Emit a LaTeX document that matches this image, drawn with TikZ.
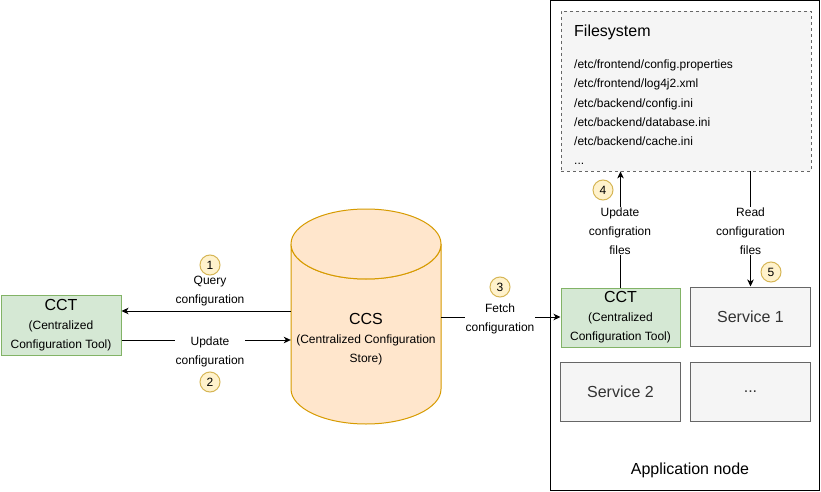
\documentclass[tikz,border=0pt]{standalone}
\usepackage{fontspec}
\setmainfont{Liberation Sans}
\usetikzlibrary{arrows.meta}
\definecolor{gfill}{HTML}{D5E8D4}
\definecolor{gline}{HTML}{82B366}
\definecolor{ofill}{HTML}{FFE6CC}
\definecolor{oline}{HTML}{D79B00}
\definecolor{sfill}{HTML}{F5F5F5}
\definecolor{sline}{HTML}{666666}
\definecolor{stext}{HTML}{333333}
\definecolor{bfill}{HTML}{FFF2CC}
\definecolor{bline}{HTML}{D6B656}
\tikzset{
  fbig/.style={font=\fontsize{16}{19}\selectfont},
  fsmall/.style={font=\fontsize{12}{19}\selectfont},
  greenbox/.style={draw=gline, fill=gfill, line width=1pt, minimum width=#1, minimum height=59pt, inner sep=0pt, align=center, font=\fontsize{12}{19}\selectfont},
  graybox/.style={draw=sline, fill=sfill, line width=1pt, minimum width=120pt, minimum height=59pt, inner sep=0pt, text=stext, font=\fontsize{16}{19}\selectfont},
  badge/.style={circle, draw=bline, fill=bfill, line width=1pt, minimum size=20pt, inner sep=0pt, font=\fontsize{12}{13}\selectfont},
  elabel/.style={fill=white, align=center, inner sep=1pt, font=\fontsize{12}{19}\selectfont},
  conn/.style={line width=1pt, draw=black},
  arr/.style={conn, -{Stealth[length=7pt, width=6.5pt, inset=2pt]}},
}
\begin{document}
\begin{tikzpicture}[x=1pt, y=-1pt]
\useasboundingbox (0,0) rectangle (821,492);
\fill[white] (0,0) rectangle (821,492);

% Application node frame
\node[draw=black, line width=1pt, minimum width=269pt, minimum height=489pt, inner sep=0pt] (app) at (684.5,245.5) {};
\node[fbig] (apptitle) at (690,470) {Application node};

% Filesystem
\node[draw=sline, fill=sfill, dashed, line width=0.8pt, minimum width=250pt, minimum height=160pt, inner sep=0pt] (fs) at (686,91) {};
\node[fbig, anchor=west, inner sep=0pt] (fstitle) at (574,32) {Filesystem};
\foreach \y/\t [count=\i] in {69/{/etc/frontend/config.properties}, 88/{/etc/frontend/log4j2.xml}, 107/{/etc/backend/config.ini}, 126/{/etc/backend/database.ini}, 145/{/etc/backend/cache.ini}, 164/{...}}
  \node[fsmall, anchor=base west, inner sep=0pt] (f\i) at (574,\y) {\t};

% Right side boxes
\node[greenbox=119pt] (cctR) at (620.5,317.5) {{\fontsize{16}{19}\selectfont CCT}\\(Centralized\\Configuration Tool)};
\node[graybox] (svc1) at (750.5,316.5) {Service 1};
\node[graybox] (svc2) at (620.5,391.5) {Service 2};
\node[graybox] (svcn) at (750.5,391.5) {...};

% Left CCT
\node[greenbox=120pt, minimum height=60pt] (cctL) at (61,325) {{\fontsize{16}{19}\selectfont CCT}\\(Centralized\\Configuration Tool)};

% CCS cylinder
\node[minimum width=150pt, minimum height=215pt, inner sep=0pt] (ccs) at (366,316.5) {};
\filldraw[draw=oline, fill=ofill, line width=1pt]
  (291,244) -- (291,389) arc[start angle=180, end angle=0, x radius=75, y radius=35]
  -- (441,244) arc[start angle=0, end angle=180, x radius=75, y radius=35] -- cycle;
\draw[draw=oline, fill=ofill, line width=1pt] (366,244) ellipse[x radius=75, y radius=35];
\node[align=center, font=\fontsize{12}{19}\selectfont] (ccstext) at (366,339) {{\fontsize{16}{19}\selectfont CCS}\\(Centralized Configuration\\Store)};

% Connectors
\draw[arr] (ccs.west |- 0,311) -- (cctL.east |- 0,311);
\node[align=center, font=\fontsize{12}{19}\selectfont, inner sep=1pt] (qlab) at (210,291.5) {Query\\configuration};
\node[badge] (b1) at (210,265) {1};

\draw[arr] (cctL.east |- 0,340) -- (ccs.west |- 0,340);
\node[elabel] (ulab) at (210,351.5) {Update\\configuration};
\node[badge] (b2) at (210,382) {2};

\draw[arr] (ccs.east |- 0,317) -- (cctR.west |- 0,317);
\node[elabel] (flab) at (500,318.5) {Fetch\\configuration};
\node[badge] (b3) at (500,287) {3};

\draw[arr] (cctR.north) -- (fs.south -| cctR.north);
\node[elabel] (uflab) at (620,231) {Update\\configration\\files};
\node[badge] (b4) at (603,190) {4};

\draw[arr] (fs.south -| svc1.north) -- (svc1.north);
\node[elabel] (rflab) at (750.5,231) {Read\\configuration\\files};
\node[badge] (b5) at (771,272) {5};
\end{tikzpicture}
\end{document}
